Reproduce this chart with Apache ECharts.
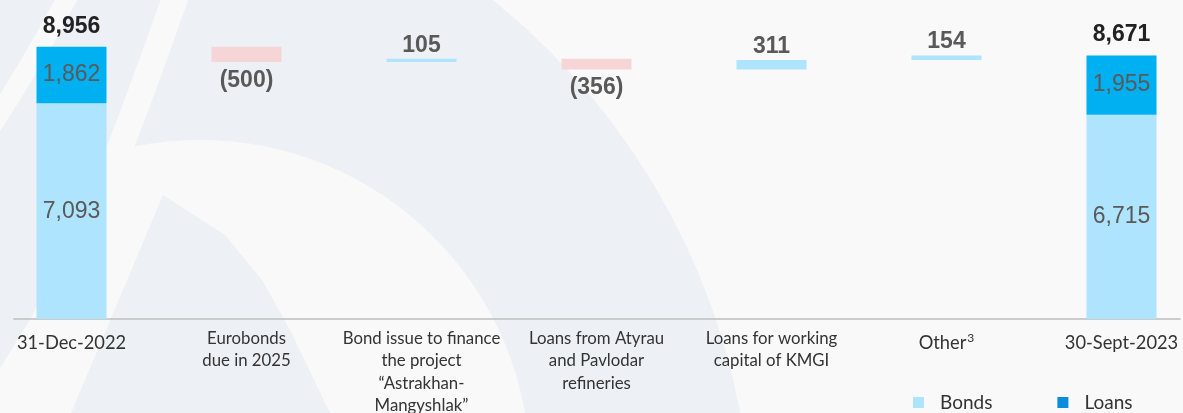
<!DOCTYPE html>
<html>
<head>
<meta charset="utf-8">
<script src="https://cdn.jsdelivr.net/npm/echarts@6/dist/echarts.min.js"></script>
<style>
  html, body { margin: 0; padding: 0; background: #f9f9f9; overflow: hidden; }
  body { position: relative; width: 1183px; height: 413px; }
  /* chart box is a bit wider than the page so the bands line up with the slide */
  #chart { position: absolute; left: -16px; top: 0; width: 1225px; height: 413px; }
</style>
</head>
<body>
<div id="chart"></div>
<script>
// categories (labels under the axis)
const categories = [
  "31-Dec-2022",
  "Eurobonds\ndue in 2025",
  "Bond issue to finance\nthe project\n“Astrakhan-\nMangyshlak”",
  "Loans from Atyrau\nand Pavlodar\nrefineries",
  "Loans for working\ncapital of KMGI",
  "Other",
  "30-Sept-2023"
];
// opening / closing totals split by type
const bonds = [7093, "-", "-", "-", "-", "-", 6715];
const loans = [1862, "-", "-", "-", "-", "-", 1955];
const totals = [8956, "-", "-", "-", "-", "-", 8671];
// changes between the two dates
const changes = ["-", -500, 105, -356, 311, 154, "-"];

const BONDS = "#aee4fd";
const LOANS = "#00b0f0";
const DECR = "#f5d5d6";
const SHADE = "#edf1f5";
const BG = "#f9f9f9";

// invisible base for the waterfall steps
let running = 8956;
const base = [], up = [], down = [];
changes.forEach(function (d) {
  if (d === "-") { base.push("-"); up.push("-"); down.push("-"); return; }
  if (d < 0) {
    running += d;
    base.push(running); down.push(-d); up.push("-");
  } else {
    base.push(running); up.push(d); down.push("-");
    running += d;
  }
});

const fmt = function (v) { return v.toLocaleString("en-US"); };
const bigIdx = [0, 5, 6];

const chart = echarts.init(document.getElementById("chart"));
chart.setOption({
  backgroundColor: BG,
  animation: false,
  graphic: [{
    type: "group", x: 16, silent: true, z: -10,
    children: [
      { type: "circle", z: -10, shape: { cx: 60, cy: 540, r: 692 }, style: { fill: SHADE } },
      { type: "circle", z: -9, shape: { cx: 200, cy: 470, r: 330 }, style: { fill: BG } },
      { type: "polygon", z: -8,
        shape: { points: [[-20, 0], [160, 0], [135, 80], [105, 160], [70, 240], [30, 320], [-20, 400]] },
        style: { fill: SHADE } },
      { type: "bezierCurve", z: -7,
        shape: { x1: 176, y1: -5, cpx1: 100, cpy1: 215, x2: 5, y2: 420 },
        style: { fill: null, stroke: BG, lineWidth: 26 } },
      { type: "bezierCurve", z: -7,
        shape: { x1: 70, y1: -8, cpx1: 35, cpy1: 60, x2: -8, y2: 125 },
        style: { fill: null, stroke: BG, lineWidth: 20 } },
      { type: "polygon", z: -6,
        shape: { points: [[163, 195], [71, 413], [330, 413], [290, 330], [262, 280], [225, 235]] },
        style: { fill: SHADE } }
    ]
  }],
  legend: {
    left: 924,
    top: 388,
    itemWidth: 11,
    itemHeight: 11,
    itemGap: 65,
    icon: "rect",
    textStyle: { fontFamily: "Lato", fontSize: 19, color: "#333", padding: [0, 0, 0, 11] },
    data: [
      { name: "Bonds", itemStyle: { color: BONDS } },
      { name: "Loans", itemStyle: { color: "#0b8dd9" } }
    ]
  },
  grid: [
    { left: 0, right: 0, top: 15, bottom: 94, outerBoundsMode: "none" },
    { left: 30, right: 29, top: 15, bottom: 94, outerBoundsMode: "none" }
  ],
  xAxis: [
    {
      type: "category",
      gridIndex: 0,
      data: categories,
      axisLine: { show: false },
      axisTick: { show: false },
      axisLabel: {
        interval: 0,
        margin: 8,
        formatter: function (v, i) {
          if (v === "Other") return "{b|Other}{sup|3}";
          const st = bigIdx.indexOf(i) >= 0 ? "b" : "s";
          return v.split("\n").map(function (l) { return "{" + st + "|" + l + "}"; }).join("\n");
        },
        rich: {
          b: { fontFamily: "Lato", fontSize: 18.3, color: "#333", lineHeight: 32 },
          sup: { fontFamily: "Lato", fontSize: 12, color: "#333", lineHeight: 32, padding: [0, 0, 10, 1] },
          s: { fontFamily: "Lato", fontSize: 16.8, color: "#333", lineHeight: 22.5 }
        }
      }
    },
    {
      type: "category",
      gridIndex: 1,
      data: [""],
      axisLine: { lineStyle: { color: "#bdbdbd", width: 1.5 } },
      axisTick: { show: false },
      axisLabel: { show: false }
    }
  ],
  yAxis: [
    { type: "value", gridIndex: 0, min: 0, max: 10000, show: false },
    { type: "value", gridIndex: 1, show: false }
  ],
  series: [
    {
      name: "base", type: "bar", stack: "w", barWidth: 70, data: base,
      itemStyle: { color: "transparent" }, silent: true
    },
    {
      name: "Bonds", type: "bar", stack: "w", barWidth: 70, data: bonds,
      itemStyle: { color: BONDS },
      label: {
        show: true, position: "inside", formatter: function (p) { return fmt(p.value); },
        fontFamily: "Liberation Sans", fontSize: 23, color: "#595959"
      }
    },
    {
      name: "Loans", type: "bar", stack: "w", barWidth: 70, data: loans,
      itemStyle: { color: LOANS },
      label: {
        show: true, position: "inside", formatter: function (p) { return fmt(p.value); },
        fontFamily: "Liberation Sans", fontSize: 23, color: "#595959"
      }
    },
    {
      name: "up", type: "bar", stack: "w", barWidth: 70, data: up,
      itemStyle: { color: BONDS },
      label: {
        show: true, position: "top", distance: 2, formatter: function (p) { return fmt(p.value); },
        fontFamily: "Liberation Sans", fontSize: 23, fontWeight: "bold", color: "#595959"
      }
    },
    {
      name: "down", type: "bar", stack: "w", barWidth: 70, data: down,
      itemStyle: { color: DECR },
      label: {
        show: true, position: "bottom", distance: 7, formatter: function (p) { return "(" + fmt(p.value) + ")"; },
        fontFamily: "Liberation Sans", fontSize: 23, fontWeight: "bold", color: "#595959"
      }
    },
    {
      name: "total", type: "bar", barWidth: 70, barGap: "-100%", data: totals,
      itemStyle: { color: "transparent" }, silent: true,
      label: {
        show: true, position: "top", distance: 9, formatter: function (p) { return fmt(p.value); },
        fontFamily: "Liberation Sans", fontSize: 23, fontWeight: "bold", color: "#222"
      }
    }
  ]
});
</script>
</body>
</html>
